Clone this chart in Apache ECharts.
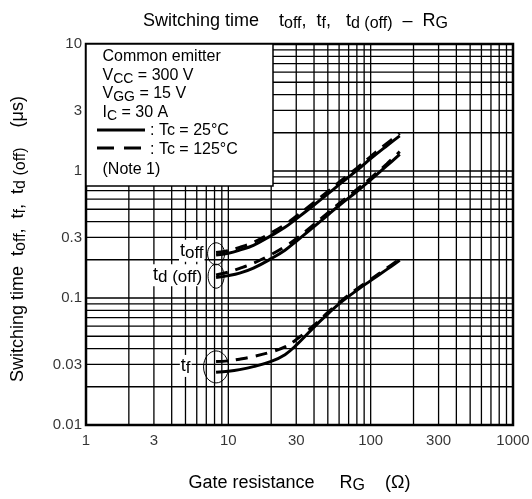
<!DOCTYPE html>
<html><head><meta charset="utf-8">
<script src="https://cdn.jsdelivr.net/npm/echarts@6/dist/echarts.min.js"></script>
<style>html,body{margin:0;padding:0;background:#fff}#c{width:532px;height:499px}</style>
</head><body><div id="c"></div>
<script>
// Gate resistance RG (ohm)
const rg = [8.2, 10, 12, 15, 20, 25, 30, 40, 50, 60, 80, 100, 130, 160];
// switching times (us)
const toff25   = [0.218, 0.225, 0.238, 0.26, 0.31, 0.36, 0.42, 0.54, 0.66, 0.78, 1.01, 1.25, 1.58, 1.89];
const toff125  = [0.228, 0.236, 0.25, 0.274, 0.326, 0.379, 0.44, 0.566, 0.69, 0.815, 1.055, 1.3, 1.65, 1.98];
const tdoff25  = [0.145, 0.15, 0.157, 0.172, 0.204, 0.238, 0.28, 0.365, 0.45, 0.535, 0.69, 0.85, 1.10, 1.35];
const tdoff125 = [0.152, 0.16, 0.171, 0.188, 0.22, 0.254, 0.293, 0.38, 0.468, 0.555, 0.715, 0.88, 1.14, 1.42];
const tf25     = [0.026, 0.0265, 0.0273, 0.0288, 0.0317, 0.0358, 0.0425, 0.059, 0.075, 0.09, 0.115, 0.137, 0.168, 0.198];
const tf125    = [0.0316, 0.032, 0.033, 0.0346, 0.0376, 0.0412, 0.047, 0.061, 0.077, 0.092, 0.118, 0.14, 0.172, 0.203];
// axis ticks
const xTickLabels = [1, 3, 10, 30, 100, 300, 1000];
const yTickLabels = [0.01, 0.03, 0.1, 0.3, 1, 3, 10];
const xGrid = [1,2,3,4,5,6,7,8,9,10,20,30,40,50,60,70,80,90,100,200,300,400,500,600,700,800,900,1000];
const yGrid = [0.01,0.02,0.03,0.04,0.05,0.06,0.07,0.08,0.09,0.1,0.2,0.3,0.4,0.5,0.6,0.7,0.8,0.9,1,2,3,4,5,6,7,8,9,10];
const xMin = 1, xMax = 1000, yMin = 0.01, yMax = 10;

const FONT = "'Liberation Sans', Arial, sans-serif";
function rich(main, sub, lh, slh) {
  return {
    m: {fontSize: main, lineHeight: lh, fontFamily: FONT, color: '#000', fontWeight: 'normal'},
    s: {fontSize: sub, lineHeight: slh, verticalAlign: 'bottom', fontFamily: FONT, color: '#000', fontWeight: 'normal'}
  };
}
const richBig = rich(18, 16, 22, 11);
const richLab = rich(18, 17, 22, 11);
const richBox = rich(16, 14, 20, 10);

const chart = echarts.init(document.getElementById('c'), null, {renderer: 'canvas'});

function pair(a, b) { return a.map((v, i) => [v, b[i]]); }
function curve(name, ys, dashed) {
  return {
    type: 'line', name: name, data: pair(rg, ys), symbol: 'none', smooth: 0.4,
    lineStyle: {color: '#000', width: 3, type: dashed ? [12, 8] : 'solid'},
    silent: true, z: 5
  };
}
function gridSeries(vals, vertical) {
  return {
    type: 'custom', silent: true, z: 1,
    data: vals.map(v => vertical ? [v, yMin] : [xMin, v]),
    renderItem: function (params, api) {
      let a, b;
      if (vertical) { const v = api.value(0); a = api.coord([v, yMin]); b = api.coord([v, yMax]); }
      else { const v = api.value(1); a = api.coord([xMin, v]); b = api.coord([xMax, v]); }
      return {type: 'line', shape: {x1: a[0], y1: a[1], x2: b[0], y2: b[1]}, style: {stroke: '#000', lineWidth: 1.3}};
    }
  };
}

chart.setOption({
  animation: false,
  backgroundColor: '#fff',
  title: {
    text: '{m|Switching time    t}{s|off}{m|,  t}{s|f}{m|,   t}{s|d (off)}{m|  –  R}{s|G}',
    left: 138, top: 5,
    textStyle: {rich: richBig, fontWeight: 'normal'}
  },
  grid: {left: 86, right: 19, top: 44, bottom: 71, show: true, borderColor: '#000', borderWidth: 2.5, backgroundColor: 'transparent'},
  xAxis: {
    type: 'log', logBase: 10, min: xMin, max: xMax,
    axisLine: {show: false}, axisTick: {show: false}, axisLabel: {show: false}, splitLine: {show: false},
    name: '{m|Gate resistance     R}{s|G}{m|    (Ω)}', nameLocation: 'middle', nameGap: 47,
    nameTextStyle: {rich: richBig}
  },
  yAxis: {
    type: 'log', logBase: 10, min: yMin, max: yMax,
    axisLine: {show: false}, axisTick: {show: false}, axisLabel: {show: false}, splitLine: {show: false},
    name: '{m|Switching time  t}{s|off}{m|,  t}{s|f}{m|,  t}{s|d (off)}{m|    (μs)}', nameLocation: 'middle', nameGap: 57,
    nameTextStyle: {rich: richBig, padding: [0, 9, 0, 0]}
  },
  series: [
    gridSeries(xGrid, true),
    gridSeries(yGrid, false),
    curve('toff 25', toff25, false),
    curve('toff 125', toff125, true),
    curve('tdoff 25', tdoff25, false),
    curve('tdoff 125', tdoff125, true),
    curve('tf 25', tf25, false),
    curve('tf 125', tf125, true),
    {
      type: 'scatter', silent: true, clip: false, symbolSize: 0, itemStyle: {color: 'transparent'},
      data: xTickLabels.map(v => [v, yMin]),
      label: {show: true, position: 'bottom', distance: 8, fontSize: 15, fontFamily: FONT, color: '#000',
        formatter: p => String(p.value[0])}
    },
    {
      type: 'scatter', silent: true, clip: false, symbolSize: 0, itemStyle: {color: 'transparent'},
      data: yTickLabels.map(v => [xMin, v]),
      label: {show: true, position: 'left', distance: 4, fontSize: 15, fontFamily: FONT, color: '#000',
        formatter: p => String(p.value[1])}
    }
  ]
});

// annotations positioned through the chart's own coordinate conversion
const px = v => chart.convertToPixel({gridIndex: 0}, v);
const tl = px([xMin, yMax]);
const boxW = 187, boxH = 142;
const lx = tl[0] + 16.5;
const g = [];
g.push({type: 'rect', z: 50, shape: {x: tl[0], y: tl[1], width: boxW, height: boxH},
  style: {fill: '#fff', stroke: '#000', lineWidth: 1.5}});
const lines = [
  ['{m|Common emitter}', 13],
  ['{m|V}{s|CC}{m| = 300 V}', 32],
  ['{m|V}{s|GG}{m| = 15 V}', 50],
  ['{m|I}{s|C}{m| = 30 A}', 69],
  ['{m|(Note 1)}', 126]
];
lines.forEach(([t, dy]) => g.push({type: 'text', z: 51, x: lx, y: tl[1] + dy,
  style: {text: t, rich: richBox, verticalAlign: 'middle', align: 'left'}}));
g.push({type: 'line', z: 51, shape: {x1: tl[0] + 11, y1: tl[1] + 86, x2: tl[0] + 59, y2: tl[1] + 86},
  style: {stroke: '#000', lineWidth: 3}});
g.push({type: 'line', z: 51, shape: {x1: tl[0] + 11, y1: tl[1] + 104, x2: tl[0] + 59, y2: tl[1] + 104},
  style: {stroke: '#000', lineWidth: 3, lineDash: [17, 10]}});
g.push({type: 'text', z: 51, x: tl[0] + 64, y: tl[1] + 87, style: {text: '{m|: Tc = 25°C}', rich: richBox, verticalAlign: 'middle'}});
g.push({type: 'text', z: 51, x: tl[0] + 64, y: tl[1] + 106, style: {text: '{m|: Tc = 125°C}', rich: richBox, verticalAlign: 'middle'}});

// curve labels and ellipses
const ann = [
  ['{m|t}{s|off}', toff25[0], toff125[0], 8.5, 11, 3, -3],
  ['{m|t}{s|d (off)}', tdoff25[0], tdoff125[0], 8, 12, 5, -1],
  ['{m|t}{s|f}', tf25[0], tf125[0], 12.5, 16, 12, -1]
];
ann.forEach(([t, a, b, rx, ry, gap, dy]) => {
  const p = px([rg[0], Math.sqrt(a * b)]);
  g.push({type: 'ellipse', z: 40, shape: {cx: p[0], cy: p[1], rx: rx, ry: ry},
    style: {fill: 'none', stroke: '#000', lineWidth: 1}});
  g.push({type: 'text', z: 40, x: p[0] - rx - gap, y: p[1] + dy,
    style: {text: t, rich: richLab, align: 'right', verticalAlign: 'middle', backgroundColor: '#fff', padding: [0, 1, 0, 1]}});
});
chart.setOption({graphic: g});
</script></body></html>
